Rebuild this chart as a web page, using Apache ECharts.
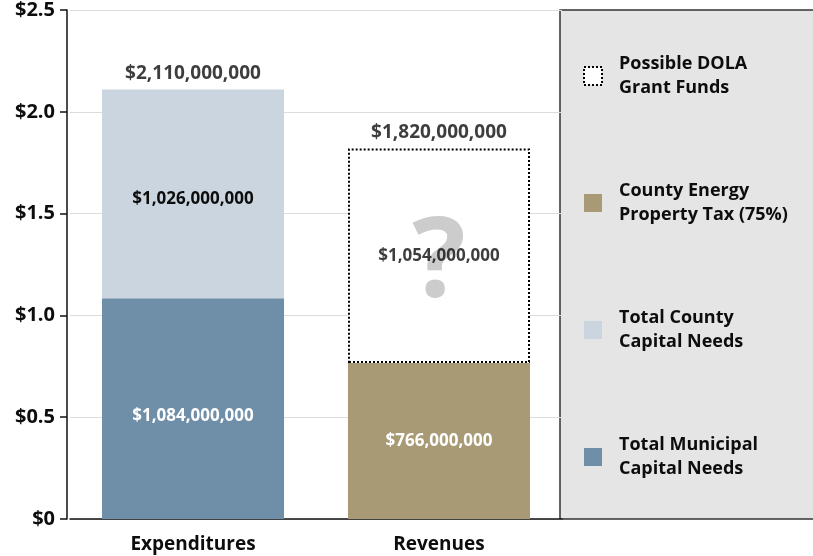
<!DOCTYPE html>
<html>
<head>
<meta charset="utf-8">
<script src="https://cdn.jsdelivr.net/npm/echarts@6/dist/echarts.min.js"></script>
<style>html,body{margin:0;padding:0;background:#fff}#c{width:813px;height:556px}</style>
</head>
<body>
<div id="c"></div>
<script>
var categories = ['Expenditures', 'Revenues'];
var municipalNeeds = [1.084, 0];
var countyNeeds = [1.026, 0];
var energyTax = [0, 0.766];
var dolaGrant = [0, 1.054];
var totals = [2.11, 1.82];
var yTicks = [0, 0.5, 1.0, 1.5, 2.0, 2.5];
var seriesNames = ['Possible DOLA Grant Funds', 'County Energy Property Tax (75%)', 'Total County Capital Needs', 'Total Municipal Capital Needs'];
var legendText = {
  'Possible DOLA Grant Funds': 'Possible DOLA\nGrant Funds',
  'County Energy Property Tax (75%)': 'County Energy\nProperty Tax (75%)',
  'Total County Capital Needs': 'Total County\nCapital Needs',
  'Total Municipal Capital Needs': 'Total Municipal\nCapital Needs'
};

var FONT = '"Open Sans", "DejaVu Sans", sans-serif';
var INK = '#0d0d0d';
function money(v) {
  return '$' + Math.round(v * 1e9).toLocaleString('en-US');
}
function zeroNull(arr) { return arr.map(function (v) { return v === 0 ? null : v; }); }

var chart = echarts.init(document.getElementById('c'), null, {renderer: 'canvas'});
var dolaMid = categories.map(function (c, i) { return dolaGrant[i] ? [c, energyTax[i] + dolaGrant[i] / 2, dolaGrant[i]] : null; }).filter(Boolean);

var legendData = seriesNames.map(function (n) {
  if (n === 'Possible DOLA Grant Funds') {
    return {name: n, itemStyle: {color: '#fff', borderColor: '#000', borderWidth: 2, borderType: [2, 2]}};
  }
  return {name: n};
});

var option = {
  animation: false,
  backgroundColor: '#fff',
  grid: {left: 70, right: 251, top: 10, bottom: 37, containLabel: false},
  graphic: [{
    type: 'rect', z: 0,
    shape: {x: 560, y: 10, width: 260, height: 509},
    style: {fill: '#e5e5e5', stroke: '#333', lineWidth: 1.5}
  }],
  legend: {
    orient: 'vertical', left: 578, top: 47, itemGap: 79, itemWidth: 18, itemHeight: 18,
    icon: 'rect', z: 10,
    data: legendData,
    formatter: function (n) { return legendText[n]; },
    textStyle: {fontFamily: FONT, fontWeight: 'bold', fontSize: 18, color: INK, lineHeight: 24, padding: [0, 0, 0, 12]}
  },
  xAxis: {
    type: 'category', data: categories,
    axisLine: {lineStyle: {color: '#111', width: 1.5}},
    axisTick: {show: false},
    axisLabel: {fontFamily: FONT, fontWeight: 'bold', fontSize: 19, color: INK, margin: 16}
  },
  yAxis: {
    type: 'value', min: 0, max: 2.5, interval: 0.5, offset: 3,
    axisLine: {show: true, lineStyle: {color: '#111', width: 1.5}},
    axisTick: {show: true, length: 7, lineStyle: {color: '#111', width: 1.5}},
    splitLine: {lineStyle: {color: '#dcdcdc', width: 1}},
    axisLabel: {fontFamily: FONT, fontWeight: 'bold', fontSize: 20, color: INK, margin: 12,
      formatter: function (v) { return v === 0 ? '$0' : '$' + v.toFixed(1); }}
  },
  series: [
    {
      name: 'Total Municipal Capital Needs', type: 'bar', stack: 's', barWidth: '74%', z: 2,
      data: zeroNull(municipalNeeds),
      itemStyle: {color: '#6f8ea8'},
      label: {show: true, position: 'inside', offset: [0, 8], formatter: function (p) { return money(p.value); },
        fontFamily: FONT, fontWeight: 'bold', fontSize: 17, color: '#fff'}
    },
    {
      name: 'Total County Capital Needs', type: 'bar', stack: 's', z: 2,
      data: zeroNull(countyNeeds),
      itemStyle: {color: '#cbd5df'},
      label: {show: true, position: 'inside', offset: [0, 5], formatter: function (p) { return money(p.value); },
        fontFamily: FONT, fontWeight: 'bold', fontSize: 17, color: INK}
    },
    {
      name: 'County Energy Property Tax (75%)', type: 'bar', stack: 's', z: 2,
      data: zeroNull(energyTax),
      itemStyle: {color: '#a99a76'},
      label: {show: true, position: 'inside', formatter: function (p) { return money(p.value); },
        fontFamily: FONT, fontWeight: 'bold', fontSize: 17, color: '#fff'}
    },
    {
      name: 'Possible DOLA Grant Funds', type: 'bar', stack: 's', z: 2,
      data: zeroNull(dolaGrant),
      itemStyle: {color: '#fff', borderColor: '#000', borderWidth: 2, borderType: [2, 2]},
      label: {show: true, position: 'inside', offset: [0, 9], formatter: '?',
        fontFamily: FONT, fontWeight: 'bold', fontSize: 112, color: '#cccccc'}
    },
    {
      name: 'dolaLabel', type: 'scatter', symbolSize: 0, z: 5, silent: true,
      data: dolaMid,
      label: {show: true, position: 'inside', formatter: function (p) { return money(p.value[2]); },
        fontFamily: FONT, fontWeight: 'bold', fontSize: 17, color: INK}
    },
    {
      name: 'totals', type: 'scatter', symbolSize: 0, z: 5, silent: true,
      data: categories.map(function (c, i) { return [c, totals[i]]; }),
      label: {show: true, position: 'top', distance: 6, formatter: function (p) { return money(p.value[1]); },
        fontFamily: FONT, fontWeight: 'bold', fontSize: 19, color: INK}
    }
  ]
};
chart.setOption(option);
</script>
</body>
</html>
